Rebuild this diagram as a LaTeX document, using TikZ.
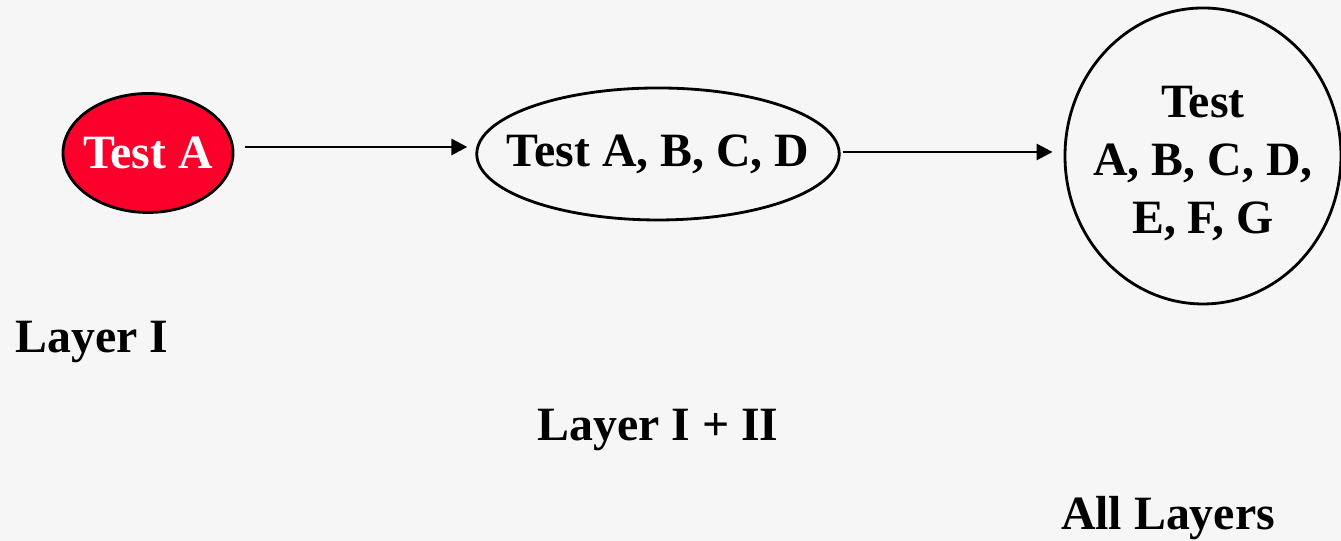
\documentclass[tikz,border=0pt]{standalone}
\usepackage{fontspec}
\setmainfont{Liberation Serif}
\usetikzlibrary{shapes.geometric,arrows.meta}
\definecolor{testred}{RGB}{250,0,42}
\definecolor{slidebg}{RGB}{246,246,246}

\begin{document}
\begin{tikzpicture}[->,>={Triangle[length=1.6mm,width=1.6mm]},line width=0.8pt,
    font=\bfseries\fontsize{13.6}{16.5}\selectfont,
    test node/.style={ellipse,draw,inner ysep=0pt,align=center},
    layer label/.style={inner sep=0pt}]

            \fill[slidebg] (0,0) rectangle (13.41,5.41);
            \useasboundingbox (0,0) rectangle (13.41,5.41);

            \node[test node, fill=testred, text=white, inner xsep=-0.55mm, minimum width=1.70cm, minimum height=1.19cm]  (testa) at (1.48,3.88) {Test A};
            \node[test node, inner xsep=-2.3mm, minimum width=3.60cm, minimum height=1.32cm]  (testabcd) at (6.58,3.87) {Test A, B, C, D};
            \node[test node, minimum width=2.76cm, minimum height=2.96cm,
                  label={[align=center,yshift=-0.8mm]center:Test\\A, B, C, D,\\E, F, G}]  (testall) at (12.03,3.85) {};

            \node[layer label, anchor=west] (layer1) at (0.14,1.99) {Layer I};
            \node[layer label] (layer12) at (6.58,1.11) {Layer I + II};
            \node[layer label] (layerall) at (11.68,0.23) {All Layers};

            \draw[shorten <=1.1mm, shorten >=0.8mm] ([yshift=0.6mm]testa.east) to ([yshift=0.6mm]testa.east -| testabcd.west);
            \draw[shorten <=0.2mm, shorten >=1.1mm] ([yshift=0.2mm]testabcd.east) to ([yshift=0.2mm]testabcd.east -| testall.west);

        \end{tikzpicture}
\end{document}
